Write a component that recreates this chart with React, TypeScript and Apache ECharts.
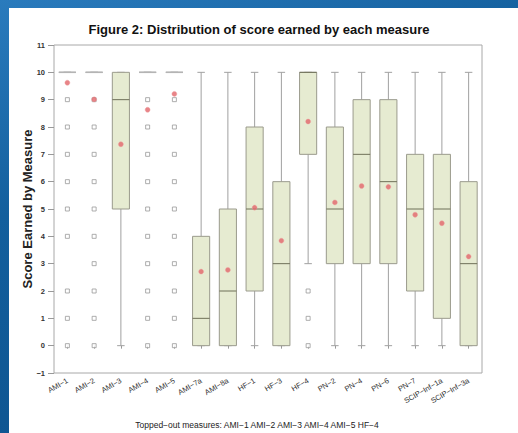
import React, { useEffect, useRef } from "react";
import * as echarts from "echarts";

// Measures on the horizontal axis
const categories = [
  "AMI−1", "AMI−2", "AMI−3", "AMI−4", "AMI−5", "AMI−7a", "AMI−8a", "HF−1",
  "HF−3", "HF−4", "PN−2", "PN−4", "PN−6", "PN−7", "SCIP−Inf−1a", "SCIP−Inf−3a",
];

// Box plot statistics per measure
const whiskerLow = [10, 10, 0, 10, 10, 0, 0, 0, 0, 3, 0, 0, 0, 0, 0, 0];
const q1 = [10, 10, 5, 10, 10, 0, 0, 2, 0, 7, 3, 3, 3, 2, 1, 0];
const median = [10, 10, 9, 10, 10, 1, 2, 5, 3, 10, 5, 7, 6, 5, 5, 3];
const q3 = [10, 10, 10, 10, 10, 4, 5, 8, 6, 10, 8, 9, 9, 7, 7, 6];
const whiskerHigh = [10, 10, 10, 10, 10, 10, 10, 10, 10, 10, 10, 10, 10, 10, 10, 10];
const means = [9.62, 9.01, 7.37, 8.63, 9.21, 2.71, 2.77, 5.05, 3.84, 8.2, 5.24, 5.84, 5.81, 4.79, 4.48, 3.26];

// Outlying scores per measure
const outliers: number[][] = [
  [9, 8, 7, 6, 5, 4, 2, 1, 0],
  [9, 8, 7, 6, 5, 4, 3, 2, 1, 0],
  [],
  [9, 8, 7, 6, 5, 4, 3, 2, 1, 0],
  [9, 8, 7, 6, 5, 4, 3, 2, 1, 0],
  [], [], [], [],
  [2, 1, 0],
  [], [], [], [], [], [],
];

const yTicks = { min: -1, max: 11, interval: 1 };

const titleText = "Figure 2: Distribution of score earned by each measure";
const yAxisName = "Score Earned by Measure";
const footnote = "Topped−out measures: AMI−1 AMI−2 AMI−3 AMI−4 AMI−5 HF−4";

const FONT = "'Liberation Sans', Arial, Helvetica, sans-serif";
const BOX_FILL = "#e6ebd1";
const BOX_EDGE = "#9a9a8c";
const MEDIAN_EDGE = "#6f7058";
const WHISKER = "#a0a0a0";

function renderBox(params: any, api: any) {
  const idx = api.value(0);
  const lo = api.coord([idx, api.value(1)]);
  const b1 = api.coord([idx, api.value(2)]);
  const md = api.coord([idx, api.value(3)]);
  const b3 = api.coord([idx, api.value(4)]);
  const hi = api.coord([idx, api.value(5)]);
  const band = api.size([1, 0])[0];
  const bw = band * 0.64;
  const cw = band * 0.28;
  const x = lo[0];
  const flat = Math.abs(b1[1] - b3[1]) < 0.5;
  const lineStyle = { stroke: WHISKER, lineWidth: 1, fill: null };
  return {
    type: "group",
    children: [
      { type: "line", shape: { x1: x, y1: b3[1], x2: x, y2: hi[1] }, style: lineStyle },
      { type: "line", shape: { x1: x, y1: b1[1], x2: x, y2: lo[1] }, style: lineStyle },
      { type: "line", shape: { x1: x - cw / 2, y1: hi[1], x2: x + cw / 2, y2: hi[1] }, style: lineStyle },
      { type: "line", shape: { x1: x - cw / 2, y1: lo[1], x2: x + cw / 2, y2: lo[1] }, style: lineStyle },
      {
        type: "rect",
        shape: { x: x - bw / 2, y: b3[1], width: bw, height: b1[1] - b3[1] },
        style: { fill: BOX_FILL, stroke: flat ? "#b4b4b4" : BOX_EDGE, lineWidth: 1 },
      },
      {
        type: "line",
        shape: { x1: x - bw / 2, y1: md[1], x2: x + bw / 2, y2: md[1] },
        style: { stroke: flat ? "#b4b4b4" : MEDIAN_EDGE, lineWidth: flat ? 1.5 : 1 },
      },
    ],
  };
}

export default function App() {
  const ref = useRef<HTMLDivElement>(null);

  useEffect(() => {
    if (!ref.current) return;
    const chart = echarts.init(ref.current, null, { renderer: "svg" });

    const boxData = categories.map((_, i) => [i, whiskerLow[i], q1[i], median[i], q3[i], whiskerHigh[i]]);
    const outlierData: number[][] = [];
    outliers.forEach((list, i) => list.forEach((v) => outlierData.push([i, v])));
    const meanData = means.map((v, i) => [i, v]);

    chart.setOption({
      animation: false,
      backgroundColor: "#ffffff",
      textStyle: { fontFamily: FONT },
      title: {
        text: titleText,
        left: 245,
        top: 10,
        textAlign: "center",
        textStyle: { fontSize: 13, fontWeight: "bold", color: "#111", fontFamily: FONT },
      },
      graphic: [
        {
          type: "text",
          x: 248,
          y: 417,
          style: {
            text: footnote,
            fontSize: 8.5,
            fill: "#222",
            fontFamily: FONT,
            align: "center",
            verticalAlign: "middle",
          },
        },
      ],
      grid: {
        left: 45,
        right: 36,
        top: 37,
        bottom: 60,
        show: true,
        borderColor: "#a8a8a8",
        borderWidth: 1,
        backgroundColor: "transparent",
      },
      xAxis: {
        type: "category",
        data: categories,
        boundaryGap: true,
        axisLine: { show: false },
        axisTick: { show: true, alignWithLabel: true, length: 3, lineStyle: { color: "#999" } },
        axisLabel: { rotate: 30, fontSize: 7.5, color: "#333", margin: 7, interval: 0, fontFamily: FONT },
        splitLine: { show: false },
      },
      yAxis: {
        type: "value",
        min: yTicks.min,
        max: yTicks.max,
        interval: yTicks.interval,
        name: yAxisName,
        nameLocation: "middle",
        nameRotate: 90,
        nameGap: 20,
        nameMoveOverlap: false,
        nameTextStyle: { fontSize: 13, fontWeight: "bold", color: "#222", fontFamily: FONT },
        axisLine: { show: false },
        axisTick: { show: true, length: 6, lineStyle: { color: "#999" } },
        axisLabel: {
          fontSize: 7.5,
          fontWeight: "bold",
          color: "#333",
          margin: 9,
          formatter: (v: number) => String(v).replace("-", "−"),
        },
        splitLine: { show: false },
      },
      series: [
        {
          type: "custom",
          renderItem: renderBox,
          data: boxData,
          encode: { x: 0, y: [1, 2, 3, 4, 5] },
          z: 2,
        },
        {
          type: "scatter",
          data: outlierData,
          symbol: "rect",
          symbolSize: 4,
          itemStyle: { color: "#ffffff", borderColor: "#9a9a9a", borderWidth: 1 },
          z: 3,
        },
        {
          type: "scatter",
          data: meanData,
          symbol: "circle",
          symbolSize: 5,
          itemStyle: { color: "#e2656a", borderColor: "#f0a0a0", borderWidth: 0.5 },
          z: 4,
        },
      ],
    });

    return () => chart.dispose();
  }, []);

  return (
    <div
      style={{
        position: "fixed",
        left: 0,
        top: 0,
        width: 518,
        height: 433,
        overflow: "hidden",
        background: "linear-gradient(160deg, #2a7bbd 0%, #135f9d 35%, #0b4f89 100%)",
      }}
    >
      <div
        ref={ref}
        style={{ position: "absolute", left: 9, top: 8, width: 509, height: 425, background: "#fff" }}
      />
    </div>
  );
}
